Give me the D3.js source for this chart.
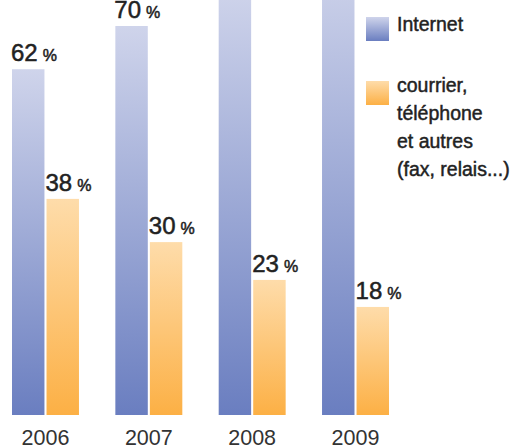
<!DOCTYPE html>
<html>
<head>
<meta charset="utf-8">
<script src="https://cdn.jsdelivr.net/npm/d3@7"></script>
<style>
  body { margin: 0; background: #fff; }
  svg { display: block; font-family: "Liberation Sans", Arial, sans-serif; }
</style>
</head>
<body>
<svg id="chart" width="516" height="447"></svg>
<script>
// --- data ---
const years = ["2006", "2007", "2008", "2009"];
const series = ["internet", "courrier"];
const internet = [62, 70, 77, 82];
const courrier = [38, 30, 23, 18];
const showLabel = { internet: [true, true, false, false], courrier: [true, true, true, true] };
const legendLabels = {
    internet: ["Internet"],
    courrier: ["courrier,", "téléphone", "et autres", "(fax, relais...)"]
};

const svg = d3.select("#chart");
const baseY = 415;

// scales
const x0 = d3.scaleBand().domain(years).range([12, 389]).paddingInner(0.352);
const x1 = d3.scaleBand().domain(series).range([0, x0.bandwidth()]).paddingInner(0.06);
const y = d3.scaleLinear().domain([-2, 70]).range([baseY, 26]);

// gradients (light on top, dark at bottom)
const defs = svg.append("defs");
const grads = {
    internet: ["#cfd4eb", "#6a7ec0"],
    courrier: ["#fedcaa", "#fcb045"]
};
Object.entries(grads).forEach(([k, c]) => {
    const g = defs.append("linearGradient")
        .attr("id", "grad-" + k)
        .attr("x1", 0).attr("y1", 0).attr("x2", 0).attr("y2", 1);
    g.append("stop").attr("offset", "0%").attr("stop-color", c[0]);
    g.append("stop").attr("offset", "100%").attr("stop-color", c[1]);
});

const rows = years.map((yr, i) => ({ year: yr, i, internet: internet[i], courrier: courrier[i] }));

const group = svg.selectAll(".year")
    .data(rows)
    .enter().append("g")
    .attr("class", "year")
    .attr("transform", d => `translate(${x0(d.year)},0)`);

group.selectAll("rect")
    .data(d => series.map(s => ({ key: s, value: d[s], i: d.i })))
    .enter().append("rect")
    .attr("x", d => x1(d.key))
    .attr("y", d => y(d.value))
    .attr("width", x1.bandwidth())
    .attr("height", d => baseY - y(d.value))
    .attr("fill", d => `url(#grad-${d.key})`);

// value labels
const lbl = group.selectAll(".val")
    .data(d => series.map(s => ({ key: s, value: d[s], i: d.i })).filter(d => showLabel[d.key][d.i]))
    .enter().append("text")
    .attr("class", "val")
    .attr("x", d => x1(d.key) - 1)
    .attr("y", d => y(d.value) - 8)
    .attr("fill", "#222")
    .style("stroke", "#222").style("stroke-width", 0.5)
    .style("font-size", "24px");
lbl.append("tspan").text(d => d.value);
lbl.append("tspan").attr("dx", 5).style("font-size", "16px").text("%");

// year axis labels
svg.selectAll(".yr")
    .data(years)
    .enter().append("text")
    .attr("class", "yr")
    .attr("x", d => x0(d) + x0.bandwidth() / 2)
    .attr("y", 445)
    .attr("text-anchor", "middle")
    .attr("fill", "#333")
    .style("font-size", "21.5px")
    .text(d => d);

// legend
const legY = { internet: 17, courrier: 81 };
series.forEach(s => {
    svg.append("rect")
        .attr("x", 366).attr("y", legY[s])
        .attr("width", 23).attr("height", 24)
        .attr("fill", `url(#grad-${s})`);
    const t = svg.append("text")
        .attr("x", 397)
        .attr("y", s === "internet" ? 31 : 92)
        .attr("fill", "#222")
        .style("font-size", "19.5px")
        .style("stroke", "#222").style("stroke-width", 0.45);
    legendLabels[s].forEach((line, j) => {
        t.append("tspan").attr("x", 397).attr("dy", j === 0 ? 0 : 28).text(line);
    });
});
</script>
</body>
</html>
